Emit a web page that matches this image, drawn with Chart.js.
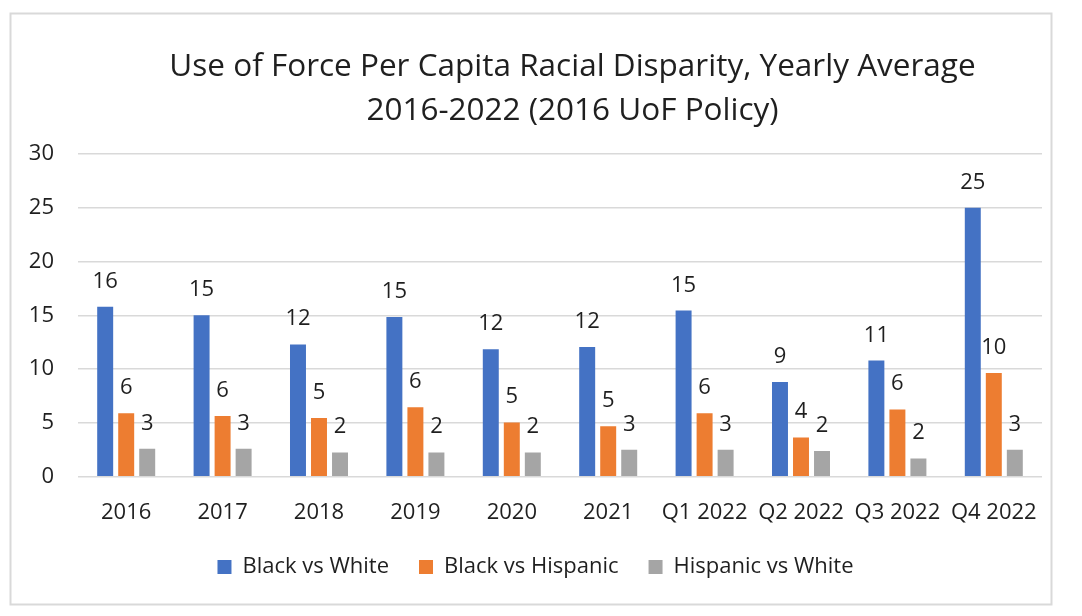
<!DOCTYPE html>
<html>
<head>
<meta charset="utf-8">
<title>Use of Force Per Capita Racial Disparity</title>
<script src="https://cdn.jsdelivr.net/npm/chart.js@4.4.1/dist/chart.umd.min.js"></script>
<style>
  html, body { margin: 0; padding: 0; background: #fff; }
  #wrap { width: 1082px; height: 616px; }
</style>
</head>
<body>
<div id="wrap"><canvas id="chart" width="1082" height="616"></canvas></div>
<script>
/* UoF per capita disparity — bar chart */

const categories = ['2016', '2017', '2018', '2019', '2020', '2021', 'Q1 2022', 'Q2 2022', 'Q3 2022', 'Q4 2022'];
const seriesNames = ['Black vs White', 'Black vs Hispanic', 'Hispanic vs White'];
const blackVsWhite = [15.8, 15.0, 12.3, 14.85, 11.85, 12.05, 15.45, 8.8, 10.8, 25.0];
const blackVsHispanic = [5.9, 5.65, 5.45, 6.45, 5.05, 4.7, 5.9, 3.65, 6.25, 9.65];
const hispanicVsWhite = [2.6, 2.6, 2.25, 2.25, 2.25, 2.5, 2.5, 2.4, 1.7, 2.5];
const titleLines = ['Use of Force Per Capita Racial Disparity, Yearly Average', '2016-2022 (2016 UoF Policy)'];
const yMax = 30;
const yStep = 5;

const colors = ['#4472C4', '#ED7D31', '#A5A5A5'];
const textColor = '#1f1f1f';
const gridColor = '#d9d9d9';
const fontFamily = "'Open Sans', 'Noto Sans', sans-serif";

Chart.defaults.font.family = fontFamily;
Chart.defaults.color = textColor;

// outer frame like the Excel chart area border
const framePlugin = {
  id: 'frame',
  beforeDraw(chart) {
    const { ctx } = chart;
    ctx.save();
    ctx.fillStyle = '#fff';
    ctx.fillRect(0, 0, chart.width, chart.height);
    ctx.strokeStyle = gridColor;
    ctx.lineWidth = 2;
    ctx.strokeRect(10.5, 13.5, 1041, 591);
    ctx.restore();
  },
};

// two-line title, centred where Excel put it (not over the canvas centre)
const titlePlugin = {
  id: 'bigTitle',
  afterDraw(chart) {
    const { ctx } = chart;
    ctx.save();
    ctx.font = `31.5px ${fontFamily}`;
    ctx.fillStyle = textColor;
    ctx.textAlign = 'center';
    ctx.textBaseline = 'alphabetic';
    ctx.fillText(titleLines[0], 572.5, 75.5);
    ctx.fillText(titleLines[1], 572.5, 120);
    ctx.restore();
  },
};

// rounded value above every bar
const valueLabels = {
  id: 'valueLabels',
  afterDatasetsDraw(chart) {
    const { ctx } = chart;
    ctx.save();
    ctx.font = `22px ${fontFamily}`;
    ctx.fillStyle = textColor;
    ctx.textAlign = 'center';
    ctx.textBaseline = 'alphabetic';
    chart.data.datasets.forEach((ds, di) => {
      chart.getDatasetMeta(di).data.forEach((bar, i) => {
        ctx.fillText(String(Math.round(ds.data[i])), bar.x, bar.y - 19);
      });
    });
    ctx.restore();
  },
};

const series = [blackVsWhite, blackVsHispanic, hispanicVsWhite];

new Chart(document.getElementById('chart'), {
  type: 'bar',
  data: {
    labels: categories,
    datasets: series.map((data, i) => ({
      label: seriesNames[i],
      data,
      backgroundColor: colors[i],
      borderWidth: 0,
      barPercentage: 0.76,
      categoryPercentage: 0.654,
    })),
  },
  options: {
    responsive: false,
    animation: false,
    layout: { padding: { left: 29, right: 40, top: 154, bottom: 28 } },
    plugins: {
      title: { display: false },
      tooltip: { enabled: false },
      legend: {
        position: 'bottom',
        labels: {
          boxWidth: 14,
          boxHeight: 14,
          padding: 30,
          color: textColor,
          font: { size: 22 },
        },
      },
    },
    scales: {
      x: {
        grid: { display: false, drawTicks: false },
        border: { display: false },
        ticks: { padding: 23, color: textColor, font: { size: 22 }, maxRotation: 0, autoSkip: false },
        afterFit: (s) => { s.height = 49.3; },
      },
      y: {
        min: 0,
        max: yMax,
        ticks: { stepSize: yStep, padding: 24, color: textColor, font: { size: 22 } },
        grid: { color: gridColor, lineWidth: 1.5, drawTicks: false },
        border: { display: false },
        afterFit: (s) => { s.width = 49; },
      },
    },
  },
  plugins: [framePlugin, titlePlugin, valueLabels],
});
</script>
</body>
</html>
